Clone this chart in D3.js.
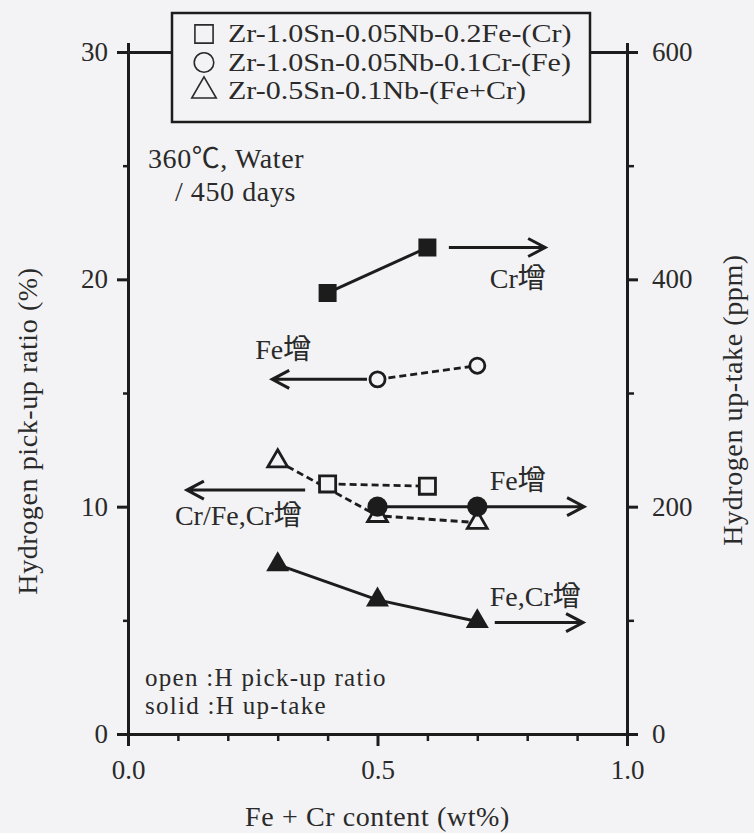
<!DOCTYPE html>
<html>
<head>
<meta charset="utf-8">
<script src="https://cdn.jsdelivr.net/npm/d3@7"></script>
<style>
  body { margin: 0; background: #f3f3f5; }
  svg { display: block; font-family: "Liberation Serif", "Times New Roman", "Noto Sans CJK JP", serif; }
</style>
</head>
<body>
<svg id="chart"></svg>
<script>
// alloy series, x = Fe + Cr content (wt%)
const alloyNames = [
  "Zr-1.0Sn-0.05Nb-0.2Fe-(Cr)",
  "Zr-1.0Sn-0.05Nb-0.1Cr-(Fe)",
  "Zr-0.5Sn-0.1Nb-(Fe+Cr)",
]
const crContent = [0.4, 0.6]
const crRatio = [11.0, 10.9] // %
const crUptake = [388, 428] // ppm
const feContent = [0.5, 0.7]
const feRatio = [15.6, 16.2]
const feUptake = [200, 200]
const feCrContent = [0.3, 0.5, 0.7]
const feCrRatio = [12.0, 9.6, 9.3]
const feCrUptake = [149, 118, 99]

const contentTicks = [0, 0.5, 1]
const contentMinor = [0.1, 0.2, 0.3, 0.4, 0.6, 0.7, 0.8, 0.9]
const ratioTicks = [0, 10, 20, 30]
const ratioMinor = [5, 15, 25]
const uptakeTicks = [0, 200, 400, 600]
const uptakeMinor = [100, 300, 500]

// trend arrows: x range in wt%, level on ratio (%) or uptake (ppm) axis
const trendLabels = ["Cr增", "Fe增", "Cr/Fe,Cr增", "Fe增", "Fe,Cr增"]
const trendFrom = [0.643, 0.479, 0.355, 0.701, 0.735]
const trendTo = [0.836, 0.289, 0.118, 0.914, 0.912]
const trendLevel = [428, 15.6, 10.73, 200, 98]
const trendAxis = ["ppm", "%", "%", "ppm", "ppm"]
const trendLabelX = [0.725, 0.255, 0.094, 0.725, 0.725]

const W = 754
const H = 833
const margin = { top: 52, right: 127, bottom: 99, left: 128 }
const ink = "#1c1c1c"
const txt = "#2a2a2a"
const bg = "#f3f3f5"

const svg = d3.select("#chart").attr("width", W).attr("height", H)

const x = d3.scaleLinear().domain([0, 1]).range([margin.left, W - margin.right])
const yL = d3.scaleLinear().domain([0, 30]).range([H - margin.bottom, margin.top])
const yR = d3.scaleLinear().domain([0, 600]).range([H - margin.bottom, margin.top])

const styleAxis = (g, width) => {
  g.attr("font-family", null)
  g.select(".domain").attr("stroke", ink).attr("stroke-width", 3)
  g.selectAll(".tick line").attr("stroke", ink).attr("stroke-width", width)
  g.selectAll(".tick text").attr("fill", txt).attr("font-size", 27)
}

/*
  Axes
*/
const x0 = H - margin.bottom
svg.append("g")
  .attr("transform", `translate(0,${x0})`)
  .call(d3.axisBottom(x).tickValues(contentMinor).tickSize(7).tickSizeOuter(0).tickFormat(""))
  .call((g) => styleAxis(g, 2.5))
svg.append("g")
  .attr("transform", `translate(0,${x0})`)
  .call(d3.axisBottom(x).tickValues(contentTicks).tickSize(12).tickSizeOuter(0).tickPadding(14).tickFormat(d3.format(".1f")))
  .call((g) => styleAxis(g, 3))

svg.append("g")
  .attr("transform", `translate(0,${margin.top})`)
  .call(d3.axisTop(x).tickValues([0, 1]).tickSize(9).tickSizeOuter(0).tickFormat(""))
  .call((g) => styleAxis(g, 3))

svg.append("g")
  .attr("transform", `translate(${margin.left},0)`)
  .call(d3.axisLeft(yL).tickValues(ratioMinor).tickSize(5).tickSizeOuter(0).tickFormat(""))
  .call((g) => styleAxis(g, 2.5))
svg.append("g")
  .attr("transform", `translate(${margin.left},0)`)
  .call(d3.axisLeft(yL).tickValues(ratioTicks).tickSize(11).tickSizeOuter(0).tickPadding(9))
  .call((g) => styleAxis(g, 3))

svg.append("g")
  .attr("transform", `translate(${W - margin.right},0)`)
  .call(d3.axisRight(yR).tickValues(uptakeMinor).tickSize(7).tickSizeOuter(0).tickFormat(""))
  .call((g) => styleAxis(g, 2.5))
svg.append("g")
  .attr("transform", `translate(${W - margin.right},0)`)
  .call(d3.axisRight(yR).tickValues(uptakeTicks).tickSize(11).tickSizeOuter(0).tickPadding(14))
  .call((g) => styleAxis(g, 3))

const titleStyle = (t) =>
  t.attr("fill", txt).attr("font-size", 28).attr("letter-spacing", 0.6)

svg.append("text")
  .attr("transform", `translate(37,431) rotate(-90)`)
  .attr("text-anchor", "middle")
  .text("Hydrogen pick-up ratio (%)")
  .call(titleStyle)
svg.append("text")
  .attr("transform", `translate(742,400) rotate(-90)`)
  .attr("text-anchor", "middle")
  .text("Hydrogen up-take (ppm)")
  .call(titleStyle)
svg.append("text")
  .attr("x", x(0.5))
  .attr("y", 826)
  .attr("text-anchor", "middle")
  .text("Fe + Cr content (wt%)")
  .call(titleStyle)

/*
  Series lines
*/
const pts = (xs, ys, yScale) => xs.map((v, i) => [x(v), yScale(ys[i])])
const line = d3.line()
const plot = svg.append("g")

const dashed = [
  pts(crContent, crRatio, yL),
  pts(feContent, feRatio, yL),
  pts(feCrContent, feCrRatio, yL),
]
const solid = [
  pts(crContent, crUptake, yR),
  pts(feContent, feUptake, yR),
  pts(feCrContent, feCrUptake, yR),
]
plot.selectAll(".dash")
  .data(dashed)
  .enter()
  .append("path")
  .attr("d", line)
  .attr("fill", "none")
  .attr("stroke", ink)
  .attr("stroke-width", 2.8)
  .attr("stroke-dasharray", "7,4")
plot.selectAll(".solid")
  .data(solid)
  .enter()
  .append("path")
  .attr("d", line)
  .attr("fill", "none")
  .attr("stroke", ink)
  .attr("stroke-width", 3)

/*
  Trend arrows
*/
trendLabels.forEach((label, i) => {
  const yScale = trendAxis[i] === "%" ? yL : yR
  const y = yScale(trendLevel[i])
  const xa = x(trendFrom[i])
  const xb = x(trendTo[i])
  const dir = xb > xa ? 1 : -1
  plot.append("path")
    .attr("d", `M${xa},${y}H${xb}M${xb - dir * 17},${y - 9}L${xb},${y}L${xb - dir * 17},${y + 9}`)
    .attr("fill", "none")
    .attr("stroke", ink)
    .attr("stroke-width", 3)
  // label below for Cr增 and Cr/Fe,Cr增, above for the others
  const below = i === 0 || i === 2
  plot.append("text")
    .attr("x", x(trendLabelX[i]))
    .attr("y", below ? y + (i === 0 ? 40 : 35) : y - (i === 1 ? 20 : 17))
    .text(label)
    .call(titleStyle)
    .attr("letter-spacing", 0)
})

/*
  Markers
*/
const sym = (type, size) => d3.symbol().type(type).size(size)()
const markers = [
  { p: pts(crContent, crRatio, yL), d: sym(d3.symbolSquare, 260), open: true },
  { p: pts(feContent, feRatio, yL), d: sym(d3.symbolCircle, 180), open: true },
  { p: pts(feCrContent, feCrRatio, yL), d: sym(d3.symbolTriangle, 170), open: true },
  { p: pts(crContent, crUptake, yR), d: sym(d3.symbolSquare, 324), open: false },
  { p: pts(feContent, feUptake, yR), d: sym(d3.symbolCircle, 320), open: false },
  { p: pts(feCrContent, feCrUptake, yR), d: sym(d3.symbolTriangle, 230), open: false },
]
markers.forEach((m) => {
  plot.selectAll(null)
    .data(m.p)
    .enter()
    .append("path")
    .attr("transform", (d) => `translate(${d[0]},${d[1]})`)
    .attr("d", m.d)
    .attr("fill", m.open ? bg : ink)
    .attr("stroke", ink)
    .attr("stroke-width", m.open ? 2.8 : 0)
})

/*
  Notes
*/
const note = (tx, ty, str) =>
  svg.append("text")
    .attr("x", x(tx))
    .attr("y", yL(ty))
    .text(str)
    .call(titleStyle)
note(0.04, 24.9, "360℃, Water")
note(0.094, 23.45, "/ 450 days")
note(0.034, 2.1, "open :H pick-up ratio").attr("font-size", 25).attr("letter-spacing", 1.3)
note(0.034, 0.9, "solid :H up-take").attr("font-size", 25).attr("letter-spacing", 1.3)

/*
  Legend
*/
const legend = svg.append("g").attr("transform", "translate(172,13)")
legend.append("rect")
  .attr("width", 418)
  .attr("height", 109)
  .attr("fill", bg)
  .attr("stroke", ink)
  .attr("stroke-width", 2.5)
const legendSymbols = [d3.symbolSquare, d3.symbolCircle, d3.symbolTriangle]
const legendSizes = [330, 300, 260]
alloyNames.forEach((name, i) => {
  legend.append("path")
    .attr("transform", `translate(32,${21 + i * 28.5})`)
    .attr("d", sym(legendSymbols[i], legendSizes[i]))
    .attr("fill", "none")
    .attr("stroke", txt)
    .attr("stroke-width", 1.6)
  const t = legend.append("text")
    .attr("x", 56)
    .attr("y", 29 + i * 28.5)
    .text(name)
    .attr("fill", txt)
    .attr("font-size", 25)
  // the scanned legend type is a bit wider than it is tall
  const natural = t.node().getComputedTextLength()
  t.attr("textLength", natural * 1.2).attr("lengthAdjust", "spacingAndGlyphs")
})
</script>
</body>
</html>
